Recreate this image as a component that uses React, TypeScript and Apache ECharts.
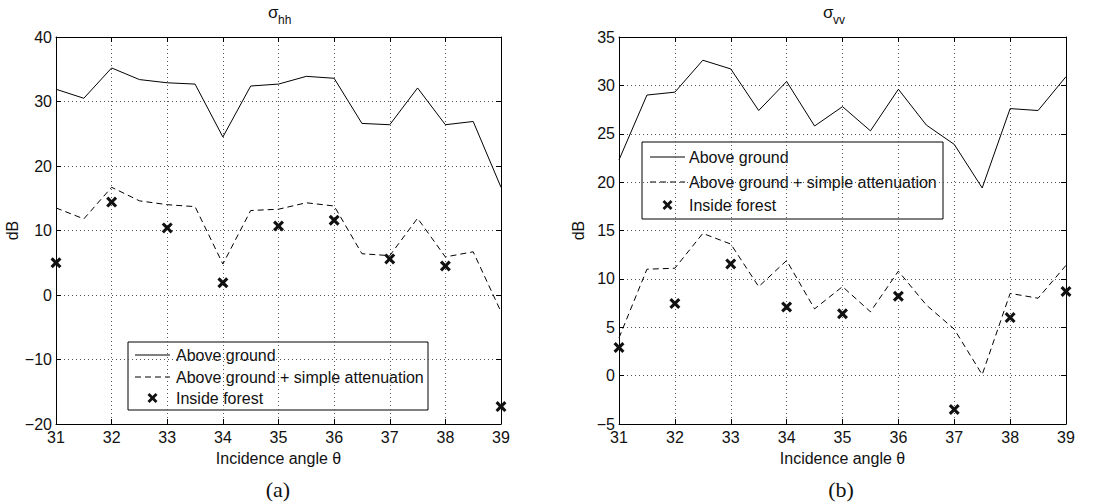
import React, { useEffect, useRef } from "react";
import * as echarts from "echarts";

// ---- data ----
const angles = [31, 31.5, 32, 32.5, 33, 33.5, 34, 34.5, 35, 35.5, 36, 36.5, 37, 37.5, 38, 38.5, 39];
const forestAngles = [31, 32, 33, 34, 35, 36, 37, 38, 39];

const hhAbove = [31.9, 30.5, 35.2, 33.4, 32.9, 32.7, 24.5, 32.4, 32.7, 33.9, 33.6, 26.6, 26.4, 32.1, 26.4, 26.9, 16.7];
const hhAtten = [13.5, 11.8, 16.7, 14.6, 14.0, 13.7, 4.8, 13.1, 13.3, 14.3, 13.8, 6.4, 6.1, 11.9, 5.9, 6.7, -2.6];
const hhForest = [5.0, 14.4, 10.4, 1.9, 10.7, 11.6, 5.6, 4.5, -17.3];

const vvAbove = [22.3, 29.0, 29.3, 32.6, 31.7, 27.4, 30.4, 25.8, 27.8, 25.3, 29.6, 25.9, 23.9, 19.4, 27.6, 27.4, 30.9];
const vvAtten = [3.9, 11.0, 11.1, 14.7, 13.6, 9.2, 11.9, 6.9, 9.2, 6.6, 10.8, 7.3, 4.8, 0.1, 8.5, 8.0, 11.4];
const vvForest = [2.9, 7.45, 11.55, 7.1, 6.4, 8.2, -3.5, 6.0, 8.7];

const legendLabels = ["Above ground", "Above ground + simple attenuation", "Inside forest"];

const FONT = "'Liberation Sans', Arial, Helvetica, sans-serif";
const INK = "#111";
const X_PATH =
  "path://M0,2 L2,0 L5,3 L8,0 L10,2 L7,5 L10,8 L8,10 L5,7 L2,10 L0,8 L3,5 Z";

const minus = (v: number) => String(v).replace("-", "\u2212");

function axesFor(gi: number, ymin: number, ymax: number, yint: number) {
  const tick = { show: true, inside: true, length: 5, lineStyle: { color: "#000", width: 1 } };
  const line = { show: true, onZero: false, lineStyle: { color: "#000", width: 1 } };
  const split = { show: true, lineStyle: { color: "#555", type: [1, 3] as any, width: 1 } };
  const x = [
    {
      type: "value", gridIndex: gi, min: 31, max: 39, interval: 1, position: "bottom",
      axisLine: line, axisTick: tick,
      axisLabel: { color: INK, fontSize: 16, fontFamily: FONT, margin: 5 },
      splitLine: split,
      name: "Incidence angle \u03b8", nameLocation: "middle", nameGap: 26,
      nameTextStyle: { color: INK, fontSize: 16, fontFamily: FONT },
    },
    {
      type: "value", gridIndex: gi, min: 31, max: 39, interval: 1, position: "top",
      axisLine: line, axisTick: tick, axisLabel: { show: false }, splitLine: { show: false },
    },
  ];
  const y = [
    {
      type: "value", gridIndex: gi, min: ymin, max: ymax, interval: yint, position: "left",
      axisLine: line, axisTick: tick,
      axisLabel: { color: INK, fontSize: 16, fontFamily: FONT, margin: 4, formatter: minus },
      splitLine: split,
      name: "dB", nameLocation: "middle", nameGap: 33,
      nameTextStyle: { color: INK, fontSize: 16, fontFamily: FONT },
    },
    {
      type: "value", gridIndex: gi, min: ymin, max: ymax, interval: yint, position: "right",
      axisLine: line, axisTick: tick, axisLabel: { show: false }, splitLine: { show: false },
    },
  ];
  return { x, y };
}

function seriesFor(gi: number, above: number[], atten: number[], forest: number[]) {
  const xi = gi * 2;
  const yi = gi * 2;
  return [
    {
      type: "line", xAxisIndex: xi, yAxisIndex: yi, symbol: "none",
      data: angles.map((a, i) => [a, above[i]]),
      lineStyle: { color: "#000", width: 1 }, z: 3,
    },
    {
      type: "line", xAxisIndex: xi, yAxisIndex: yi, symbol: "none",
      data: angles.map((a, i) => [a, atten[i]]),
      lineStyle: { color: "#000", width: 1, type: [6, 4] }, z: 3,
    },
    {
      type: "scatter", xAxisIndex: xi, yAxisIndex: yi, symbol: X_PATH, symbolSize: 11,
      data: forestAngles.map((a, i) => [a, forest[i]]),
      itemStyle: { color: "#111", opacity: 1 }, z: 4,
    },
  ];
}

function xMark(cx: number, cy: number, s: number) {
  const k = s / 10;
  const pts = [[0, 2], [2, 0], [5, 3], [8, 0], [10, 2], [7, 5], [10, 8], [8, 10], [5, 7], [2, 10], [0, 8], [3, 5]].map(
    ([px, py]) => [cx - s / 2 + px * k, cy - s / 2 + py * k]
  );
  return { type: "polygon", shape: { points: pts }, style: { fill: "#111" } };
}

function legendBox(x: number, y: number, w: number, h: number, rows: number[], lx1: number, lx2: number, tx: number) {
  const textStyle = (t: string, ty: number) => ({
    type: "text",
    style: { text: t, x: tx, y: ty, verticalAlign: "middle", fill: INK, font: `16px ${FONT}` },
  });
  return {
    type: "group", z: 100,
    children: [
      { type: "rect", shape: { x, y, width: w, height: h }, style: { fill: "#fff", stroke: "#000", lineWidth: 1 } },
      { type: "line", shape: { x1: lx1, y1: rows[0], x2: lx2, y2: rows[0] }, style: { stroke: "#000", lineWidth: 1 } },
      textStyle(legendLabels[0], rows[0]),
      { type: "line", shape: { x1: lx1, y1: rows[1], x2: lx2, y2: rows[1] }, style: { stroke: "#000", lineWidth: 1, lineDash: [6, 4] } },
      textStyle(legendLabels[1], rows[1]),
      xMark((lx1 + lx2) / 2, rows[2], 10),
      textStyle(legendLabels[2], rows[2]),
    ],
  };
}

function titleTexts(x: number, sub: string) {
  return [
    { type: "text", style: { text: "\u03c3", x, y: 12, verticalAlign: "middle", fill: INK, font: `17px ${FONT}` } },
    { type: "text", style: { text: sub, x: x + 10, y: 20, verticalAlign: "middle", fill: INK, font: `12px ${FONT}` } },
  ];
}

export default function App() {
  const ref = useRef<HTMLDivElement>(null);
  useEffect(() => {
    if (!ref.current) return;
    const chart = echarts.init(ref.current, undefined, { renderer: "svg" });
    const a = axesFor(0, -20, 40, 10);
    const b = axesFor(1, -5, 35, 5);
    chart.setOption({
      animation: false,
      backgroundColor: "#fff",
      grid: [
        { left: 56, top: 37, width: 445, height: 387, show: false },
        { left: 619, top: 37, width: 447, height: 387, show: false },
      ],
      xAxis: [...a.x, ...b.x],
      yAxis: [...a.y, ...b.y],
      series: [...seriesFor(0, hhAbove, hhAtten, hhForest), ...seriesFor(1, vvAbove, vvAtten, vvForest)],
      graphic: [
        ...titleTexts(268, "hh"),
        ...titleTexts(823, "vv"),
        { type: "text", style: { text: "(a)", x: 278, y: 489, align: "center", verticalAlign: "middle", fill: INK, font: `22px 'Liberation Serif', 'Times New Roman', serif` } },
        { type: "text", style: { text: "(b)", x: 841, y: 489, align: "center", verticalAlign: "middle", fill: INK, font: `22px 'Liberation Serif', 'Times New Roman', serif` } },
        legendBox(128, 342, 300, 68, [355, 377, 398], 135, 170, 176),
        legendBox(642, 142, 301, 77, [157, 182, 205], 650, 685, 689),
      ],
    });
    return () => chart.dispose();
  }, []);
  return <div ref={ref} style={{ position: "absolute", left: 0, top: 0, width: 1113, height: 504 }} />;
}
